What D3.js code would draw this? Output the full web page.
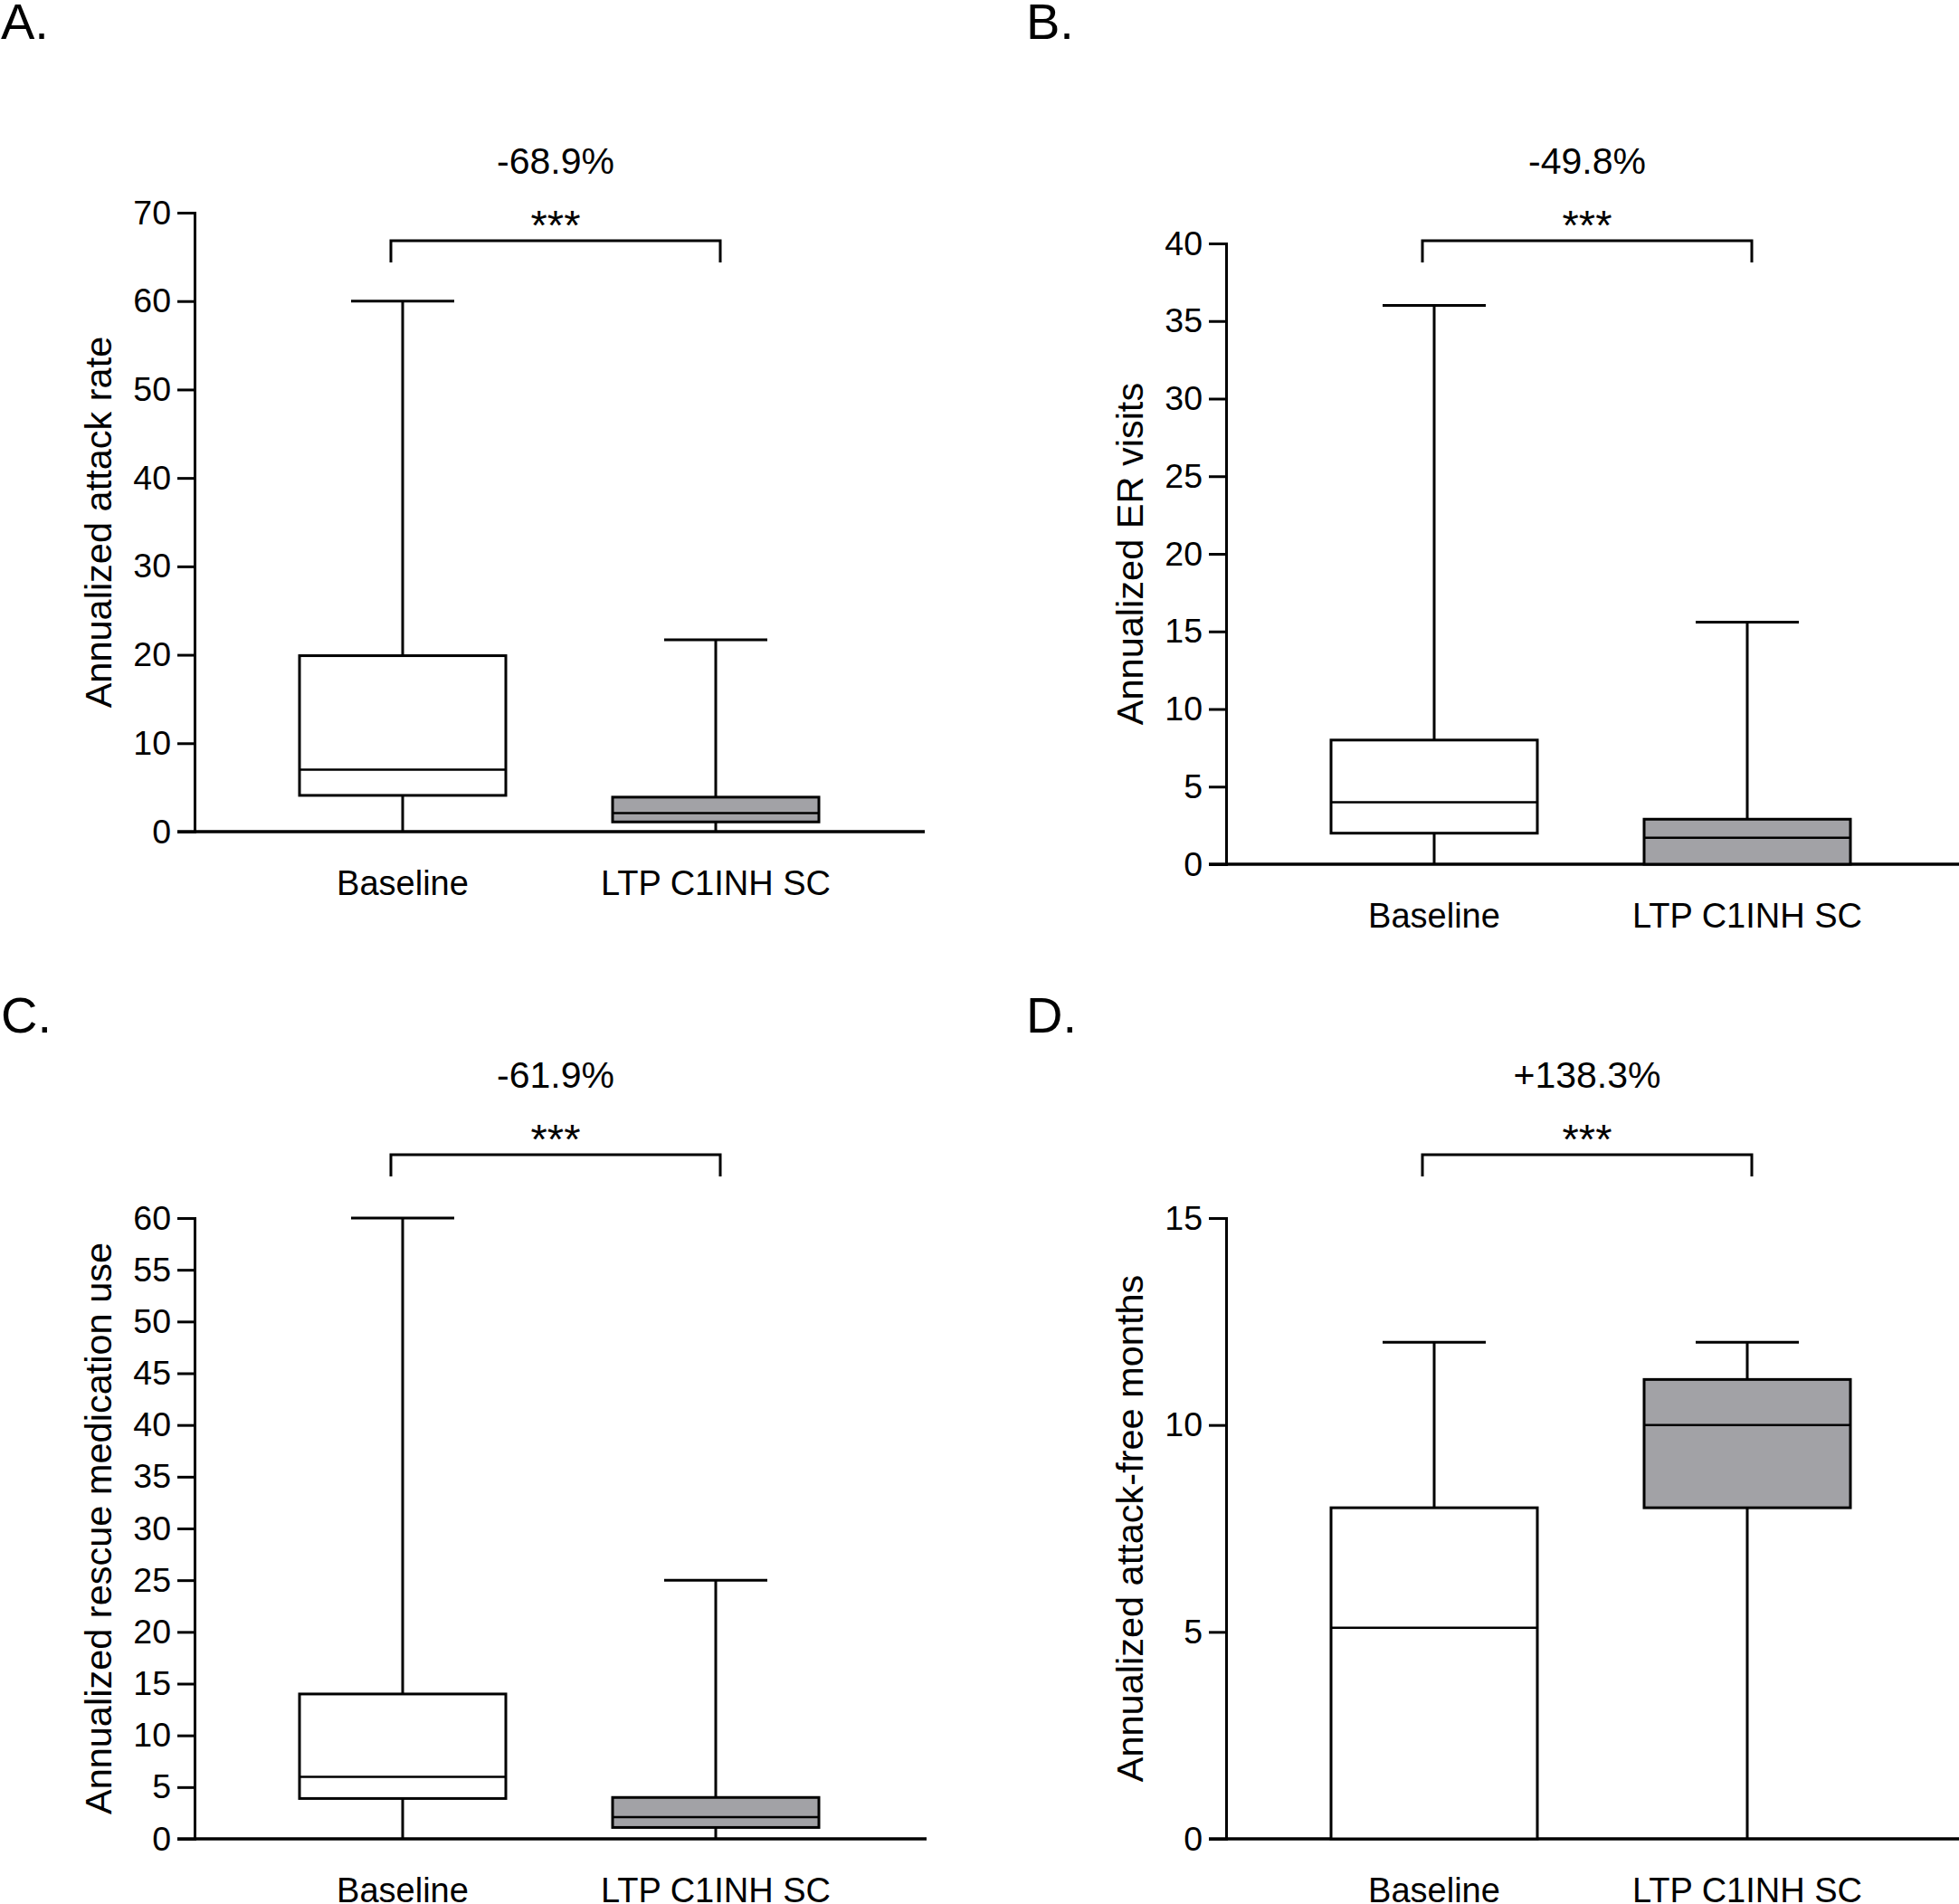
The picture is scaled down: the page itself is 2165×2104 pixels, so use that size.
<!DOCTYPE html>
<html><head><meta charset="utf-8">
<script src="https://cdn.jsdelivr.net/npm/d3@7"></script>
<style>
body{margin:0;background:#fff}
svg{display:block}
text{font-family:"Liberation Sans",Arial,Helvetica,sans-serif;fill:#000}
</style>
</head><body>
<svg id="chart" width="2165" height="2104"></svg>
<script>
// ---------- data ----------
const categories = ["Baseline", "LTP C1INH SC"];
const panelLetters = ["A.", "B.", "C.", "D."];
const yTitles = ["Annualized attack rate", "Annualized ER visits", "Annualized rescue medication use", "Annualized attack-free months"];
const changeLabels = ["-68.9%", "-49.8%", "-61.9%", "+138.3%"];
const significance = ["***", "***", "***", "***"];
const yMax = [70, 40, 60, 15];
const yTicksA = [0, 10, 20, 30, 40, 50, 60, 70];
const yTicksB = [0, 5, 10, 15, 20, 25, 30, 35, 40];
const yTicksC = [0, 5, 10, 15, 20, 25, 30, 35, 40, 45, 50, 55, 60];
const yTicksD = [0, 5, 10, 15];
// box statistics per category: [min, q1, median, q3, max]
const attackRate   = [[0, 4.1, 7.0, 19.9, 60], [0, 1.1, 2.1, 3.9, 21.7]];
const erVisits     = [[0, 2.0, 4.0, 8.0, 36],  [0, 0.0, 1.7, 2.9, 15.6]];
const rescueUse    = [[0, 3.9, 6.0, 14.0, 60], [0, 1.1, 2.1, 4.0, 25]];
const attackFree   = [[0, 0.0, 5.1, 8.0, 12],  [0, 8.0, 10.0, 11.1, 12]];

const panelData = [attackRate, erVisits, rescueUse, attackFree];
const panelTicks = [yTicksA, yTicksB, yTicksC, yTicksD];

// ---------- layout ----------
const layout = [
  {x0: 215,  x1: 1022, yTop: 235,  yBot: 919,  lx: 1,    ly: 43,   row: 0},
  {x0: 1355, x1: 2165, yTop: 269,  yBot: 955,  lx: 1134, ly: 43,   row: 0},
  {x0: 215,  x1: 1024, yTop: 1346, yBot: 2032, lx: 1,    ly: 1141, row: 1},
  {x0: 1355, x1: 2165, yTop: 1346, yBot: 2032, lx: 1134, ly: 1141, row: 1}
];
const rowBracketY = [266, 1276];
const rowPctY = [192, 1202];
const rowStarY = [265, 1275];
const fills = ["#ffffff", "#a2a2a6"];
const LW = 3;

const svg = d3.select("#chart");

layout.forEach((L, i) => {
  const g = svg.append("g");
  const x = d3.scalePoint().domain(categories).range([L.x0 + 230, L.x0 + 576]);
  const y = d3.scaleLinear().domain([0, yMax[i]]).range([L.yBot, L.yTop]);
  const halfBox = 114, halfCap = 57;

  // panel letter
  g.append("text").attr("x", L.lx).attr("y", L.ly)
    .style("font-size", "56px").text(panelLetters[i]);

  // y axis
  const ax = g.append("g").attr("transform", `translate(${L.x0},0)`)
    .call(d3.axisLeft(y).tickValues(panelTicks[i]).tickSize(19).tickPadding(7).tickSizeOuter(0).tickFormat(d3.format("d")));
  ax.select(".domain").attr("stroke", "#000").attr("stroke-width", LW).attr("stroke-linecap", "square");
  ax.selectAll(".tick line").attr("stroke", "#000").attr("stroke-width", LW);
  ax.selectAll(".tick text").style("font-size", "37.5px").attr("fill", "#000")
    .style("font-family", '"Liberation Sans",Arial,sans-serif');

  // x axis line
  g.append("line").attr("x1", L.x0 - 19).attr("x2", L.x1)
    .attr("y1", y(0)).attr("y2", y(0)).attr("stroke", "#000").attr("stroke-width", LW + 0.5);

  // y title
  g.append("text")
    .attr("transform", `translate(${L.x0 - 92},${(L.yTop + L.yBot) / 2}) rotate(-90)`)
    .attr("text-anchor", "middle").style("font-size", "41.5px").text(yTitles[i]);

  // category labels
  g.selectAll("text.cat").data(categories).enter().append("text")
    .attr("class", "cat").attr("x", d => x(d)).attr("y", L.yBot + 70)
    .attr("text-anchor", "middle").style("font-size", "38px").text(d => d);

  // boxes
  const data = panelData[i].map((s, k) => ({cat: categories[k], s, k}));
  const bx = g.selectAll("g.box").data(data).enter().append("g").attr("class", "box");
  // whiskers
  bx.append("line").attr("x1", d => x(d.cat)).attr("x2", d => x(d.cat))
    .attr("y1", d => y(d.s[3])).attr("y2", d => y(d.s[4])).attr("stroke", "#000").attr("stroke-width", LW);
  bx.append("line").attr("x1", d => x(d.cat)).attr("x2", d => x(d.cat))
    .attr("y1", d => y(d.s[0])).attr("y2", d => y(d.s[1])).attr("stroke", "#000").attr("stroke-width", LW);
  // caps
  bx.append("line").attr("x1", d => x(d.cat) - halfCap).attr("x2", d => x(d.cat) + halfCap)
    .attr("y1", d => y(d.s[4])).attr("y2", d => y(d.s[4])).attr("stroke", "#000").attr("stroke-width", LW);
  // box
  bx.append("rect").attr("x", d => x(d.cat) - halfBox).attr("width", 2 * halfBox)
    .attr("y", d => y(d.s[3])).attr("height", d => y(d.s[1]) - y(d.s[3]))
    .attr("fill", d => fills[d.k]).attr("stroke", "#000").attr("stroke-width", LW);
  // median
  bx.append("line").attr("x1", d => x(d.cat) - halfBox).attr("x2", d => x(d.cat) + halfBox)
    .attr("y1", d => y(d.s[2])).attr("y2", d => y(d.s[2])).attr("stroke", "#000").attr("stroke-width", LW - 0.5);

  // significance bracket
  const bxL = x(categories[0]) - 13, bxR = x(categories[1]) + 5, by = rowBracketY[L.row];
  g.append("path").attr("d", `M${bxL},${by + 24}V${by}H${bxR}V${by + 24}`)
    .attr("fill", "none").attr("stroke", "#000").attr("stroke-width", LW);
  g.append("text").attr("x", (bxL + bxR) / 2).attr("y", rowStarY[L.row])
    .attr("text-anchor", "middle").style("font-size", "47px").text(significance[i]);
  g.append("text").attr("x", (bxL + bxR) / 2).attr("y", rowPctY[L.row])
    .attr("text-anchor", "middle").style("font-size", "41px").text(changeLabels[i]);
});
</script>
</body></html>
